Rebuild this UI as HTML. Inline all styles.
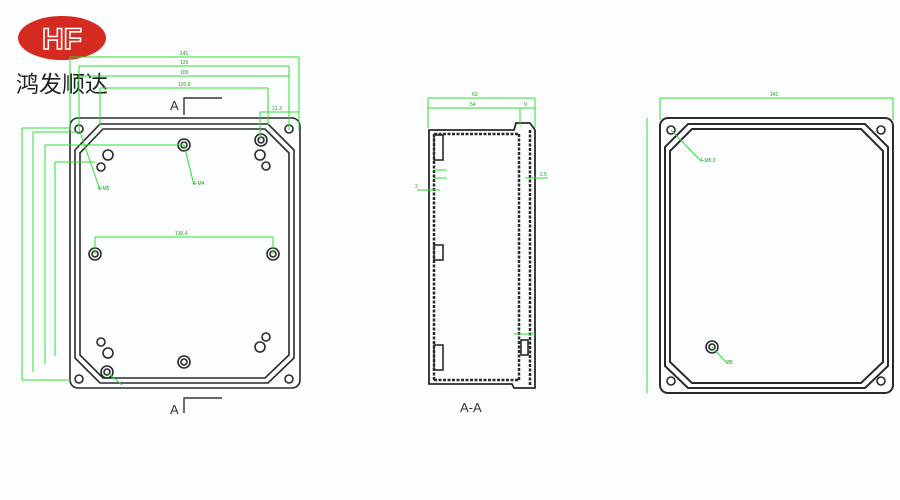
<!DOCTYPE html>
<html><head><meta charset="utf-8"><style>
html,body{margin:0;padding:0;background:#fff;width:900px;height:500px;overflow:hidden}
</style></head><body>
<svg width="900" height="500" viewBox="0 0 900 500" xmlns="http://www.w3.org/2000/svg" font-family="Liberation Sans, sans-serif">
<rect width="900" height="500" fill="#fdfeff"/>
<ellipse cx="62" cy="38" rx="44" ry="22" fill="#d42a20"/>
<text x="62" y="49" text-anchor="middle" font-size="30" font-weight="bold" fill="none" stroke="#fff" stroke-width="1.6">HF</text>
<text x="16" y="92" font-size="23" fill="#222" font-family="Liberation Sans, Noto Sans CJK SC, sans-serif">鸿发顺达</text>

<g fill="none" stroke="#2a2a2a" stroke-width="1.6">
<rect x="70" y="118" width="230" height="270" rx="8"/>
<path d="M100 124 L268 124 L294 150 L294 358 L268 383 L100 383 L75 358 L75 150 Z"/>
<path d="M103 129 L265 129 L289 153 L289 355 L265 378 L103 378 L80 355 L80 153 Z"/>
<circle cx="79" cy="129" r="4"/><circle cx="289" cy="129" r="4"/>
<circle cx="79" cy="379" r="4"/><circle cx="289" cy="379" r="4"/>
<circle cx="184" cy="145" r="6"/><circle cx="184" cy="145" r="3"/>
<circle cx="261" cy="140" r="6"/><circle cx="261" cy="140" r="3"/>
<circle cx="108" cy="155" r="5"/><circle cx="101" cy="167" r="4"/>
<circle cx="260" cy="155" r="5"/><circle cx="266" cy="166" r="4"/>
<circle cx="95" cy="254" r="6"/><circle cx="95" cy="254" r="3"/>
<circle cx="273" cy="254" r="6"/><circle cx="273" cy="254" r="3"/>
<circle cx="108" cy="353" r="5"/><circle cx="101" cy="342" r="4"/>
<circle cx="260" cy="347" r="5"/><circle cx="266" cy="337" r="4"/>
<circle cx="184" cy="362" r="6"/><circle cx="184" cy="362" r="3"/>
<circle cx="107" cy="372" r="6"/><circle cx="107" cy="372" r="3"/>
<path d="M429 130 L514 130 L516 123 L530 123 L535 130 L535 388 L514 388 L512 384 L429 384 Z" stroke-width="1.8"/>
<path d="M434 134 L519 134 M434 134 L434 380 M434 380 L519 380 M519 134 L519 380 M530 130 L530 385" stroke-dasharray="3 1.5" stroke-width="2.5"/>
<rect x="434" y="135" width="9" height="25"/><rect x="434" y="245" width="9" height="15"/><rect x="434" y="345" width="9" height="25"/>
<rect x="521" y="340" width="7" height="15"/>
<rect x="660" y="118" width="233" height="275" rx="8" stroke-width="2"/>
<path d="M688 124 L865 124 L888 147 L888 366 L865 388 L688 388 L665 366 L665 147 Z" stroke-width="2"/>
<path d="M692 129 L861 129 L883 151 L883 362 L861 383 L692 383 L670 362 L670 151 Z" stroke-width="2"/>
<circle cx="671" cy="130" r="4"/><circle cx="881" cy="130" r="4"/>
<circle cx="671" cy="381" r="4"/><circle cx="881" cy="381" r="4"/>
<circle cx="712" cy="347" r="6"/><circle cx="712" cy="347" r="3"/>
</g>
<g stroke="#333" stroke-width="1.4" fill="none">
<path d="M184 115 L184 98 L222 98"/><path d="M184 413 L184 398 L222 398"/>
</g>
<text x="170" y="110" font-size="13" fill="#333">A</text>
<text x="170" y="414" font-size="13" fill="#333">A</text>
<text x="460" y="412" font-size="13" fill="#333">A-A</text>

<g stroke="#2ee02e" stroke-width="1" fill="none">
<path d="M70 57 L299 57 M70 57 L70 130 M299 57 L299 130"/>
<path d="M79 66 L289 66 M79 66 L79 130 M289 66 L289 130"/>
<path d="M79 76 L289 76"/>
<path d="M100 88 L268 88 M100 88 L100 125 M268 88 L268 125"/>
<path d="M260 112 L299 112 M260 112 L260 140"/>
<path d="M22 128 L70 128 M22 128 L22 380 M22 380 L70 380"/>
<path d="M33 132 L80 132 M33 132 L33 372"/>
<path d="M45 145 L184 145 M45 145 L45 364"/>
<path d="M55 162 L95 162 M55 162 L55 356"/>
<path d="M95 237 L273 237 M95 237 L95 254 M273 237 L273 254"/>
<path d="M79 129 L100 190 M184 145 L194 185 M107 372 L122 385"/>
<path d="M428 98 L535 98 M428 98 L428 128 M535 98 L535 128 M428 108 L535 108 M520 108 L520 125"/>
<path d="M417 190 L440 190 M434 170 L447 170 M434 178 L447 178 M525 178 L548 178 M514 334 L535 334"/>
<path d="M660 98 L893 98 M660 98 L660 120 M893 98 L893 120"/>
<path d="M647 118 L647 393"/>
<path d="M671 130 L700 160 M712 347 L726 362"/>
</g>
<g fill="#1a9a1a" font-size="5">
<text x="180" y="55">141</text><text x="180" y="64">129</text><text x="180" y="74">109</text><text x="178" y="86">120.8</text>
<text x="272" y="110">21.3</text><text x="175" y="235">130.4</text>
<text x="98" y="190">4-M5</text><text x="193" y="185">4-M4</text>
<text x="472" y="96">63</text><text x="470" y="106">54</text><text x="524" y="106">9</text>
<text x="415" y="188">3</text><text x="540" y="176">2.5</text>
<text x="770" y="96">141</text><text x="700" y="162">4-M5.2</text><text x="726" y="364">Ø8</text>
</g>
</svg>
</body></html>
